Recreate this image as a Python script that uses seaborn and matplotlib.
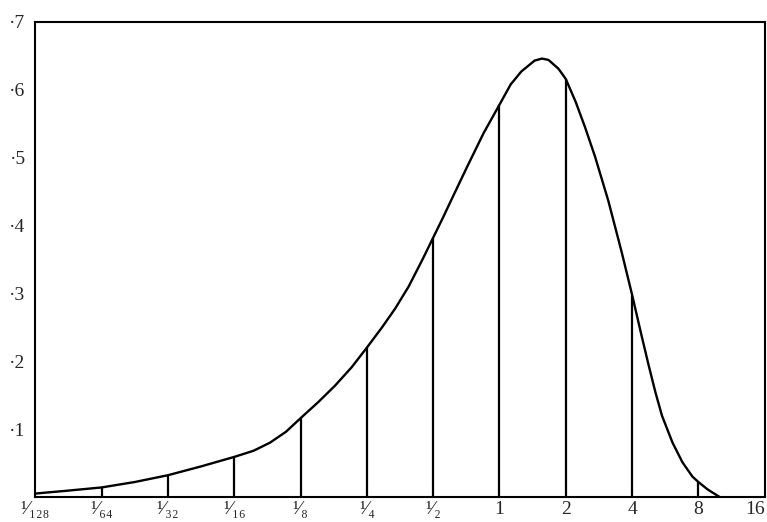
import numpy as np
import pandas as pd
import matplotlib
matplotlib.use('Agg')
import matplotlib.pyplot as plt
from matplotlib.ticker import NullLocator
import seaborn as sns

# ordinates drawn at each doubling of the abscissa
tick_values = [1/128, 1/64, 1/32, 1/16, 1/8, 1/4, 1/2, 1, 2, 4, 8, 16]
tick_labels = ['¹⁄₁₂₈', '¹⁄₆₄', '¹⁄₃₂', '¹⁄₁₆', '¹⁄₈', '¹⁄₄', '¹⁄₂',
               '1', '2', '4', '8', '16']
ordinate_heights = [0.005, 0.014, 0.032, 0.059, 0.116, 0.220, 0.382,
                    0.578, 0.616, 0.298, 0.022, 0.0]

# curve (position in powers of two, height)
curve_log2 = [-7.0, -6.54, -6.0, -5.5, -5.0, -4.5, -4.0, -3.71, -3.46,
              -3.22, -3.0, -2.73, -2.48, -2.23, -2.0, -1.77, -1.57, -1.37,
              -1.16, -1.0, -0.85, -0.70, -0.49, -0.24, 0.0, 0.17, 0.33,
              0.53, 0.64, 0.74, 0.89, 1.0, 1.15, 1.29, 1.44, 1.64, 1.84,
              2.0, 2.14, 2.25, 2.35, 2.45, 2.61, 2.76, 2.91, 3.0, 3.14,
              3.27, 3.32]
curve_height = [0.005, 0.009, 0.014, 0.022, 0.032, 0.045, 0.059, 0.068,
                0.080, 0.096, 0.116, 0.140, 0.164, 0.191, 0.220, 0.250,
                0.278, 0.310, 0.350, 0.382, 0.412, 0.443, 0.486, 0.536,
                0.578, 0.608, 0.627, 0.643, 0.646, 0.644, 0.631, 0.616,
                0.582, 0.545, 0.502, 0.437, 0.362, 0.298, 0.239, 0.194,
                0.155, 0.120, 0.080, 0.051, 0.030, 0.022, 0.011, 0.003,
                0.0]

y_ticks = [0.1, 0.2, 0.3, 0.4, 0.5, 0.6, 0.7]
y_labels = ['·1', '·2', '·3', '·4', '·5', '·6', '·7']

sns.set_style('white')
plt.rcParams['font.family'] = ['Liberation Serif', 'DejaVu Serif']

fig = plt.figure(figsize=(7.67, 5.22), dpi=100)
ax = fig.add_axes([0.046, 0.048, 0.951, 0.910])

curve = pd.DataFrame({'x': 2.0 ** np.array(curve_log2), 'y': curve_height})
sns.lineplot(data=curve, x='x', y='y', color='black', lw=1.7, ax=ax)
ax.vlines(tick_values, 0, ordinate_heights, color='black', lw=1.6)

ax.set_xscale('log', base=2)
ax.set_xlim(1/128, 16)
ax.set_ylim(0, 0.7)
ax.set_xticks(tick_values, tick_labels)
ax.xaxis.set_minor_locator(NullLocator())
ax.set_yticks(y_ticks, y_labels)
ax.set_xlabel('')
ax.set_ylabel('')

ax.tick_params(axis='x', length=0, pad=3, labelsize=14)
ax.tick_params(axis='y', direction='in', length=3, width=1, pad=7, labelsize=14)
# last label sits flush against the right frame
ax.get_xticklabels()[-1].set_horizontalalignment('right')

for side in ax.spines.values():
    side.set_visible(True)
    side.set_color('black')
    side.set_linewidth(1.5)

fig.savefig('out.png', dpi=100)
